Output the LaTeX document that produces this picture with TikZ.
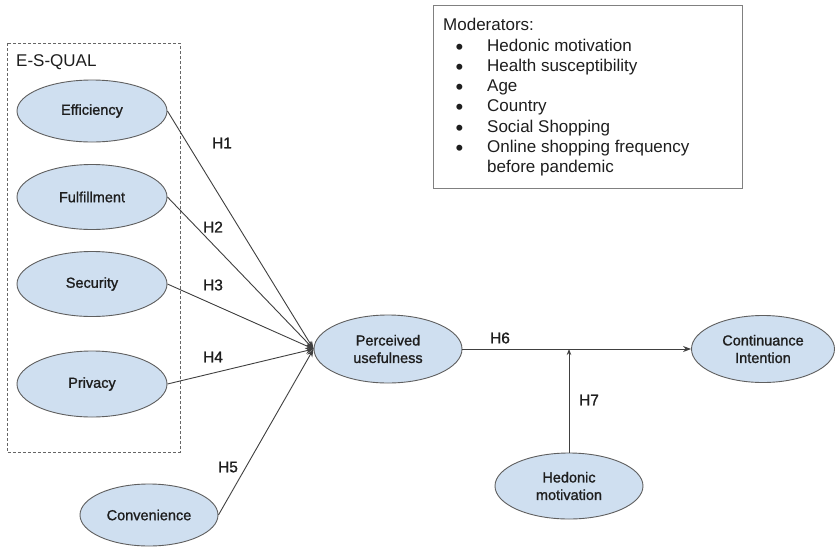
\documentclass[tikz,border=0pt]{standalone}
\usepackage{fontspec}
\setmainfont{Liberation Sans}
\newfontfamily\semibold[FakeBold=1.2]{Liberation Sans}
\usetikzlibrary{shapes.geometric,arrows.meta}
\definecolor{ellfill}{RGB}{207,223,240}
\definecolor{ellline}{RGB}{95,95,95}
\definecolor{txt}{RGB}{30,30,30}
\newcommand{\bigbul}{\hspace*{12.5pt}\raisebox{-3pt}{\smash{\fontsize{22}{20.3}\selectfont\textbullet}}}
\begin{document}
\begin{tikzpicture}[x=1pt,y=-1pt,
  construct/.style={ellipse, draw=ellline, line width=0.9pt, fill=ellfill, inner sep=0pt,
    align=center, font=\semibold\fontsize{14.5}{17.5}\selectfont, text=txt},
  hyp/.style={draw=black!75, line width=0.9pt, -{Stealth[length=8pt,width=6pt]}},
  hlabel/.style={font=\semibold\fontsize{15.5}{18}\selectfont, text=txt, inner sep=0pt},
  bigtext/.style={font=\fontsize{17}{20.3}\selectfont, text=txt, inner sep=0pt}]
\useasboundingbox (0,0) rectangle (836,550);
\fill[white] (0,0) rectangle (836,550);

% E-S-QUAL group
\draw[draw=black!60, line width=0.8pt, dash pattern=on 3pt off 2pt] (7,43) rectangle (180,452);
\node[bigtext, anchor=west] (esq) at (16,62) {E-S-QUAL};

% Constructs
\node[construct, minimum width=150pt, minimum height=62pt] (eff) at (92,111) {Efficiency};
\node[construct, minimum width=150pt, minimum height=65pt] (ful) at (92,197) {Fulfillment};
\node[construct, minimum width=150pt, minimum height=65pt] (sec) at (92,284) {Security};
\node[construct, minimum width=150pt, minimum height=66pt] (pri) at (92,384) {Privacy};
\node[construct, minimum width=138pt, minimum height=62pt] (conv) at (149,515) {Convenience};
\node[construct, minimum width=148pt, minimum height=68pt] (pu) at (388,349) {Perceived\\usefulness};
\node[construct, minimum width=143pt, minimum height=67pt] (ci) at (763,349) {Continuance\\Intention};
\node[construct, minimum width=148pt, minimum height=66pt] (hm) at (569,486) {Hedonic\\motivation};

% Hypothesised paths
\draw[hyp] (eff.east) -- (pu.west);
\draw[hyp] (ful.east) -- (pu.west);
\draw[hyp] (sec.east) -- (pu.west);
\draw[hyp] (pri.east) -- (pu.west);
\draw[hyp] (conv.east) -- (pu.west);
\draw[hyp] (pu.east) -- (ci.west);
\coordinate (mod) at (hm.north |- pu.east);
\draw[hyp, -{Stealth[length=6pt,width=4.5pt]}] (hm.north) -- (mod);

% Labels
\node[hlabel] (h1) at (222,143) {H1};
\node[hlabel] (h2) at (213,227) {H2};
\node[hlabel] (h3) at (213,285) {H3};
\node[hlabel] (h4) at (213,357) {H4};
\node[hlabel] (h5) at (228,467) {H5};
\node[hlabel] (h6) at (500,338) {H6};
\node[hlabel] (h7) at (589,400) {H7};

% Moderators box
\draw[draw=black!50, line width=0.9pt] (433,5) rectangle (742,188);
\node[bigtext, anchor=north west] (modtext) at (443,16.3) {%
  \begin{tabular}{@{}p{44pt}@{}l@{}}
  \multicolumn{2}{@{}l@{}}{Moderators:}\\
  \bigbul & Hedonic motivation\\
  \bigbul & Health susceptibility\\
  \bigbul & Age\\
  \bigbul & Country\\
  \bigbul & Social Shopping\\
  \bigbul & Online shopping frequency\\
   & before pandemic
  \end{tabular}};
\end{tikzpicture}
\end{document}
